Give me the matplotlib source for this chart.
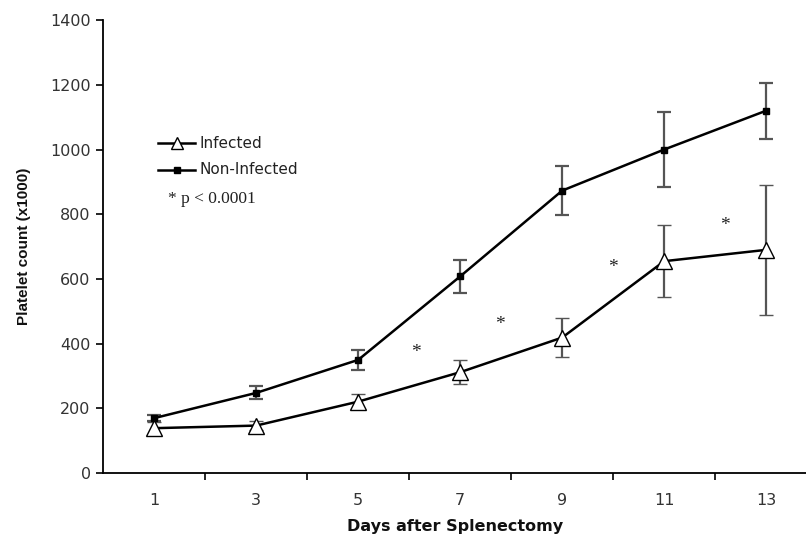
import numpy as np
import matplotlib
matplotlib.use("Agg")
import matplotlib.pyplot as plt
from matplotlib.ticker import FixedLocator

# data
days = [1, 3, 5, 7, 9, 11, 13]
infected = [139, 147, 221, 312, 419, 655, 690]
infected_err = [20, 15, 23, 38, 61, 112, 200]
non_infected = [170, 248, 350, 608, 873, 1000, 1120]
non_infected_err = [10, 20, 30, 52, 76, 117, 86]

# significance markers (day position, height)
star_x = [6.14, 7.78, 10.0, 12.2]
star_y = [372, 458, 635, 765]

# the source picture is stretched sideways, DejaVu's wider glyphs mimic that
plt.rcParams['font.family'] = ['DejaVu Sans']

fig = plt.figure(figsize=(8.06, 5.42), dpi=100)
ax = fig.add_axes([0.128, 0.127, 0.872, 0.836])

ax.errorbar(days, non_infected, yerr=non_infected_err, color='black', lw=1.8,
            marker='s', ms=5, mfc='black', mec='black',
            ecolor='#555555', elinewidth=1.6, capsize=5, capthick=1.6, zorder=3)
ax.errorbar(days, infected, yerr=infected_err, color='black', lw=1.8,
            marker='^', ms=11, mfc='white', mec='black', mew=1.0,
            ecolor='#555555', elinewidth=1.6, capsize=5, capthick=1.6, zorder=3)

for x, y in zip(star_x, star_y):
    ax.text(x, y, '*', family='Liberation Serif', fontsize=14,
            ha='center', va='center', color='#222222')

# hand-made legend
lx = [1.08, 1.8]
ax.plot(lx, [1020, 1020], color='black', lw=1.8)
ax.plot([np.mean(lx)], [1020], marker='^', ms=9, mfc='white', mec='black', mew=1.0)
ax.text(1.88, 1020, 'Infected', fontsize=11, va='center', color='#222222')
ax.plot(lx, [937, 937], color='black', lw=1.8)
ax.plot([np.mean(lx)], [937], marker='s', ms=4.5, color='black')
ax.text(1.88, 937, 'Non-Infected', fontsize=11, va='center', color='#222222')
ax.text(1.28, 848, '* p < 0.0001', family='Liberation Serif', fontsize=12.5,
        va='center', color='#222222')

ax.set_xlim(0, 13.78)
ax.set_ylim(0, 1400)
ax.set_yticks(np.arange(0, 1401, 200))
ax.xaxis.set_major_locator(FixedLocator(days))
ax.xaxis.set_minor_locator(FixedLocator([2, 4, 6, 8, 10, 12]))
ax.tick_params(axis='x', which='major', length=0, pad=14, labelsize=11.5,
               labelcolor='#333333')
ax.tick_params(axis='x', which='minor', length=5, width=1.2, direction='out')
ax.tick_params(axis='y', length=5, width=1.2, direction='out', labelsize=11.5,
               pad=4, labelcolor='#333333')

for s in ['top', 'right']:
    ax.spines[s].set_visible(False)
for s in ['left', 'bottom']:
    ax.spines[s].set_linewidth(1.3)

ax.set_xlabel('Days after Splenectomy', fontsize=11.5, fontweight='bold',
              labelpad=8, color='#111111')
ax.set_ylabel('Platelet count (x1000)', family='Liberation Sans', fontsize=11,
              fontweight='bold', color='#111111')
ax.yaxis.set_label_coords(-0.102, 0.5)

fig.savefig('out.png', dpi=100)
